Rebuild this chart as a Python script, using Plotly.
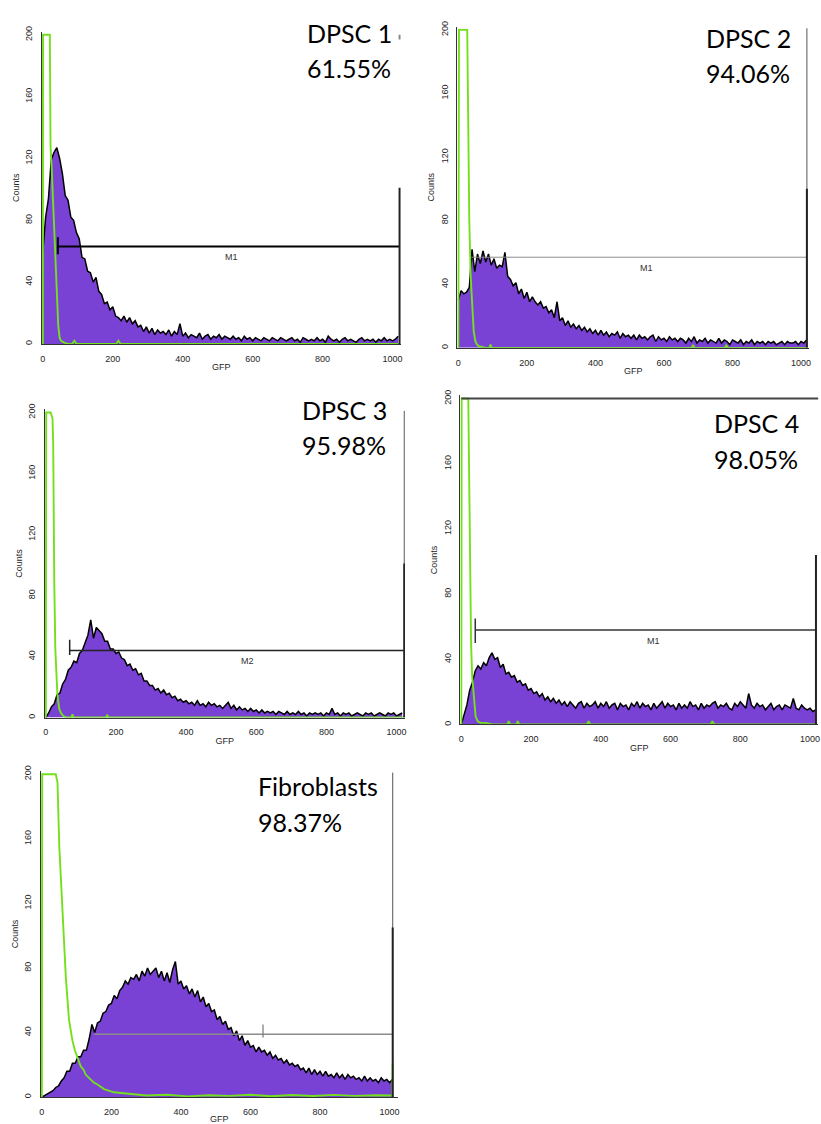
import plotly.graph_objects as go

W, H = 821, 1124
BIN = 8  # GFP channels per histogram bin

sample_names = ["DPSC 1", "DPSC 2", "DPSC 3", "DPSC 4", "Fibroblasts"]
positive_pct = ["61.55%", "94.06%", "95.98%", "98.05%", "98.37%"]

# GFP histogram counts (bins of 8 channels, starting at channel 0)
dpsc1_counts = [
    60, 82, 94, 119, 124, 127, 120, 110, 96, 93, 82, 80, 72, 68, 56, 55,
    47, 46, 40, 43, 34, 32, 26, 27, 22, 24, 18, 17, 15, 18, 14, 17,
    13, 15, 11, 12, 8, 11, 7, 10, 6, 9, 7, 8, 6, 9, 5, 8,
    6, 13, 5, 7, 4, 6, 5, 4, 7, 3, 5, 6, 3, 5, 4, 6,
    3, 5, 4, 3, 5, 3, 4, 2, 5, 3, 4, 2, 4, 3, 2, 4,
    3, 2, 4, 3, 2, 4, 3, 2, 3, 4, 2, 3, 1, 4, 3, 2,
    3, 2, 4, 2, 3, 1, 5, 3, 2, 3, 1, 3, 4, 2, 3, 2,
    1, 3, 4, 2, 3, 2, 3, 1, 3, 2, 4, 2, 3, 2, 3, 5,
]
dpsc2_counts = [
    30, 36, 34, 35, 38, 62, 48, 59, 53, 61, 54, 59, 52, 56, 50, 52,
    51, 60, 45, 43, 39, 41, 34, 37, 31, 35, 29, 32, 29, 27, 29, 25,
    26, 22, 24, 19, 29, 17, 19, 14, 17, 13, 15, 12, 14, 11, 13, 10,
    12, 9, 11, 8, 11, 8, 10, 7, 9, 8, 10, 6, 9, 7, 8, 6,
    8, 5, 8, 6, 7, 5, 7, 8, 4, 7, 5, 6, 4, 7, 5, 6,
    4, 6, 5, 3, 6, 4, 7, 3, 5, 4, 6, 3, 5, 4, 3, 6,
    3, 5, 4, 2, 5, 4, 3, 5, 2, 4, 3, 5, 2, 4, 3, 4,
    2, 4, 3, 4, 2, 3, 4, 2, 4, 3, 3, 4, 2, 4, 3, 5,
]
dpsc3_counts = [
    0, 3, 7, 9, 15, 16, 22, 25, 31, 33, 37, 36, 42, 44, 49, 54,
    64, 52, 59, 57, 55, 50, 50, 45, 45, 42, 43, 39, 38, 34, 35, 31,
    32, 28, 29, 24, 24, 21, 21, 18, 19, 16, 18, 15, 16, 13, 14, 11,
    12, 10, 11, 9, 10, 8, 11, 8, 9, 7, 10, 8, 9, 7, 8, 6,
    8, 10, 6, 8, 5, 7, 5, 6, 4, 6, 4, 5, 3, 5, 3, 4,
    3, 4, 2, 4, 3, 2, 4, 2, 3, 2, 4, 2, 3, 1, 3, 2,
    3, 2, 3, 1, 3, 2, 6, 2, 3, 1, 3, 2, 3, 1, 2, 3,
    2, 1, 3, 2, 3, 1, 2, 3, 2, 1, 3, 2, 3, 1, 2, 3,
]
dpsc4_counts = [
    0, 6, 12, 21, 26, 33, 36, 34, 38, 36, 41, 44, 40, 41, 35, 37,
    31, 32, 29, 30, 26, 27, 24, 25, 21, 22, 19, 20, 17, 19, 15, 17,
    14, 16, 13, 15, 12, 14, 11, 14, 12, 10, 13, 14, 10, 13, 11, 12,
    14, 10, 13, 11, 14, 10, 12, 13, 9, 13, 11, 12, 9, 13, 11, 14,
    10, 13, 11, 12, 9, 13, 10, 12, 14, 10, 13, 11, 12, 9, 13, 10,
    12, 10, 14, 11, 12, 9, 13, 10, 12, 11, 13, 14, 10, 12, 11, 13,
    10, 9, 13, 11, 14, 12, 10, 19, 12, 10, 13, 11, 12, 9, 11, 13,
    9, 11, 12, 9, 12, 11, 10, 16, 10, 9, 12, 10, 9, 10, 8, 9,
]
fibro_counts = [
    0, 1, 2, 3, 4, 6, 7, 10, 12, 16, 16, 21, 21, 25, 25, 29,
    29, 36, 45, 40, 46, 47, 52, 53, 57, 58, 63, 61, 66, 68, 72, 70,
    74, 73, 76, 72, 78, 75, 80, 76, 78, 80, 74, 78, 72, 77, 71, 79,
    84, 70, 72, 67, 69, 64, 67, 62, 66, 59, 62, 56, 58, 53, 54, 48,
    50, 45, 47, 42, 43, 38, 41, 35, 38, 32, 35, 31, 32, 28, 31, 28,
    29, 26, 28, 24, 26, 23, 24, 21, 23, 20, 21, 19, 20, 17, 18, 15,
    18, 14, 17, 14, 16, 13, 16, 13, 14, 12, 15, 12, 14, 11, 14, 12,
    13, 11, 12, 10, 13, 10, 12, 10, 11, 9, 12, 10, 11, 9, 11,
]
sample_counts = [dpsc1_counts, dpsc2_counts, dpsc3_counts, dpsc4_counts, fibro_counts]

# Isotype control overlays (GFP channel, counts; peak clipped at 200)
ctrl1_gfp = [0, 0.5, 20, 22, 25, 30, 35, 40, 44, 48, 52, 60, 70, 84, 90, 96, 110, 210, 216, 222, 1020]
ctrl1_counts = [0, 200, 200, 128, 115, 90, 62, 32, 12, 4, 2, 1, 0, 0, 2, 0, 0, 0, 2, 0, 0]
ctrl2_gfp = [0, 2, 26, 28, 32, 36, 40, 45, 50, 55, 60, 80, 90, 94, 98, 680, 685, 690, 777, 782, 787, 1017]
ctrl2_counts = [0, 200, 200, 160, 80, 45, 25, 10, 4, 2, 1, 0, 0, 2, 0, 0, 1.5, 0, 0, 1.5, 0, 0]
ctrl3_gfp = [0, 1, 14, 19, 21, 22, 24, 27, 30, 33, 38, 43, 50, 60, 72, 76, 80, 170, 175, 180, 1022]
ctrl3_counts = [0, 200, 200, 196, 180, 130, 90, 45, 25, 15, 6, 3, 1, 0, 0, 2, 0, 0, 1.5, 0, 0]
ctrl4_gfp = [0, 1, 20, 22, 24, 25, 28, 31, 36, 41, 47, 55, 70, 90, 132, 136, 140, 158, 162, 166,
             360, 365, 370, 715, 720, 725, 1017]
ctrl4_counts = [0, 200, 200, 160, 120, 73, 50, 30, 15, 5, 2, 1, 1, 0, 0, 2, 0, 0, 2, 0,
                0, 2, 0, 0, 2, 0, 0]
ctrl5_gfp = [0, 1, 40, 45, 50, 59, 64, 69, 78, 84, 88, 95, 102, 112, 120, 126, 140, 150, 159, 179,
             207, 265, 300, 360, 420, 480, 540, 600, 660, 720, 780, 840, 900, 960, 1008, 1009]
ctrl5_counts = [0, 200, 200, 195, 156, 115, 96, 74, 48, 40, 35, 29, 25, 19, 17, 14, 11, 9, 8, 5,
                3, 1.6, 1, 1.5, 0.5, 1.2, 0.8, 1.5, 0.6, 1.3, 0.7, 1.4, 0.8, 1.2, 1, 21]
ctrl_gfp = [ctrl1_gfp, ctrl2_gfp, ctrl3_gfp, ctrl4_gfp, ctrl5_gfp]
ctrl_counts = [ctrl1_counts, ctrl2_counts, ctrl3_counts, ctrl4_counts, ctrl5_counts]

# Marker gates: start channel, end channel, drawn level (counts)
gate_names = ["M1", "M1", "M2", "M1", ""]
gate_start = [43, 38, 68, 40, 150]
gate_end = [1020, 1017, 1022, 1017, 1009]
gate_level = [63, 57, 44, 58, 39]
gate_label_gfp = [540, 549, 574, 551, 0]
end_bar_height = [101, 100, 101, 104, 105]

# Axis ticks: every 40 channels / 10 counts, labelled every 200 / 40
x_tick_vals = list(range(0, 1001, 40))
x_tick_text = [str(v) if v % 200 == 0 else "" for v in x_tick_vals]
y_tick_vals = list(range(0, 201, 10))
y_tick_text = [str(v) if v % 40 == 0 else "" for v in y_tick_vals]

# ---- layout geometry (pixels in the 821x1124 canvas) ----
# x px of channel 0, px per channel, y px of count 0, y px of count 200
geom = [
    (42, 0.351, 340, 29),
    (459, 0.344, 344, 24),
    (45, 0.352, 716, 409),
    (462, 0.350, 723, 395),
    (41, 0.349, 1098, 773),
]
# label block: left px, mid of first line, mid of second line
label_pos = [(305, 27, 62), (706, 32, 67), (300, 407, 442), (714, 420, 456), (256, 785, 821)]

X_MIN, X_MAX = -3, 1024
Y_MIN, Y_MAX = 0, 202
TICK_PX = 4

PURPLE = "#7A42D4"
GREEN = "#72E01C"

fig = go.Figure()
shapes = []
annotations = []
axis_font = dict(family="Liberation Sans, Arial", size=9, color="#262626")

for i in range(5):
    n = "" if i == 0 else str(i + 1)
    xa, ya = "x" + n, "y" + n
    x0px, sx, y0px, y200px = geom[i]
    sy = (y0px - y200px) / 200.0
    left = x0px + X_MIN * sx
    right = x0px + X_MAX * sx
    bottom = y0px
    top = y0px - Y_MAX * sy

    counts = sample_counts[i]
    gfp = [BIN * k for k in range(len(counts))]
    fig.add_trace(go.Scatter(
        x=gfp, y=counts, xaxis=xa, yaxis=ya, mode="lines",
        line=dict(color="black", width=1.5), fill="tozeroy", fillcolor=PURPLE,
        hoverinfo="skip", showlegend=False))
    fig.add_trace(go.Scatter(
        x=ctrl_gfp[i], y=ctrl_counts[i], xaxis=xa, yaxis=ya, mode="lines",
        line=dict(color=GREEN, width=1.9), hoverinfo="skip", showlegend=False))

    # tick marks drawn as short line markers just outside each axis line
    tick_y = -(TICK_PX / 2.0) / sy            # half a tick below the count-0 line
    tick_x = X_MIN - (TICK_PX / 2.0) / sx     # half a tick left of the counts axis line
    fig.add_trace(go.Scatter(
        x=x_tick_vals, y=[tick_y] * len(x_tick_vals), xaxis=xa, yaxis=ya, mode="markers",
        marker=dict(symbol="line-ns", size=TICK_PX, line=dict(color="#111", width=1.6)),
        cliponaxis=False, hoverinfo="skip", showlegend=False))
    fig.add_trace(go.Scatter(
        x=[tick_x] * len(y_tick_vals), y=y_tick_vals, xaxis=xa, yaxis=ya, mode="markers",
        marker=dict(symbol="line-ew", size=TICK_PX, line=dict(color="#111", width=1.6)),
        cliponaxis=False, hoverinfo="skip", showlegend=False))

    fig.update_layout(**{
        ("xaxis" + n): dict(
            domain=[left / W, right / W], range=[X_MIN, X_MAX], anchor=ya,
            title=dict(text="GFP", font=axis_font, standoff=1),
        ),
        ("yaxis" + n): dict(
            domain=[1 - bottom / H, 1 - top / H], range=[Y_MIN, Y_MAX], anchor=xa,
            title=dict(text="Counts", font=axis_font, standoff=3),
        ),
    })

    # gate bar
    gcol = ["black", "#8c8c8c", "#222", "#333", "#8c8c8c"][i]
    gw = [2, 1, 1.5, 1.5, 1.5][i]
    shapes.append(dict(type="line", xref=xa, yref=ya, x0=gate_start[i], x1=gate_end[i],
                       y0=gate_level[i], y1=gate_level[i], line=dict(color=gcol, width=gw)))
    if i in (0, 2, 3):
        lo, hi = [(gate_level[0] - 5, gate_level[0] + 6), (41, 51), (50, 65)][[0, 2, 3].index(i)]
        shapes.append(dict(type="line", xref=xa, yref=ya, x0=gate_start[i], x1=gate_start[i],
                           y0=lo, y1=hi, line=dict(color=gcol, width=gw)))
    if i == 4:
        shapes.append(dict(type="line", xref=xa, yref=ya, x0=636, x1=636, y0=37, y1=45,
                           line=dict(color="#777", width=1.2)))
    # right-hand boundary bars
    if i in (1, 2, 4):
        shapes.append(dict(type="line", xref=xa, yref=ya, x0=gate_end[i], x1=gate_end[i],
                           y0=0, y1=201, line=dict(color="#555", width=1)))
    shapes.append(dict(type="line", xref=xa, yref=ya, x0=gate_end[i], x1=gate_end[i],
                       y0=0, y1=end_bar_height[i], line=dict(color="#222", width=2)))
    if i == 0:
        shapes.append(dict(type="line", xref=xa, yref=ya, x0=gate_end[i], x1=gate_end[i],
                           y0=197, y1=200, line=dict(color="#888", width=2)))
    if i == 3:
        shapes.append(dict(type="line", xref=xa, yref=ya, x0=0, x1=X_MAX,
                           y0=200, y1=200, line=dict(color="#444", width=2)))

    if gate_names[i] and i != 4:
        annotations.append(dict(x=gate_label_gfp[i], y=gate_level[i] - 7, xref=xa, yref=ya,
                                text=gate_names[i], showarrow=False, xanchor="center",
                                yanchor="middle",
                                font=dict(family="Liberation Sans, Arial", size=9, color="#333")))

    lx, l1, l2 = label_pos[i]
    for txt, ly in ((sample_names[i], l1), (positive_pct[i], l2)):
        annotations.append(dict(x=lx / W, y=1 - ly / H, xref="paper", yref="paper",
                                text=txt, showarrow=False, xanchor="left", yanchor="middle",
                                font=dict(family="Lato, Open Sans, sans-serif", size=25,
                                          color="black")))

# shared axis styling; the transparent ticks keep label spacing for the drawn tick marks
fig.update_xaxes(
    showgrid=False, zeroline=False, showline=True, linecolor="#333", linewidth=1,
    tickmode="array", tickvals=x_tick_vals, ticktext=x_tick_text,
    ticks="outside", ticklen=5, tickwidth=1, tickcolor="rgba(0,0,0,0)", tickfont=axis_font,
    ticklabelstandoff=1,
)
fig.update_yaxes(
    showgrid=False, zeroline=False, showline=True, linecolor="#333", linewidth=1,
    tickmode="array", tickvals=y_tick_vals, ticktext=y_tick_text,
    ticks="outside", ticklen=5, tickwidth=1, tickcolor="rgba(0,0,0,0)", tickfont=axis_font,
    tickangle=-90,
)

fig.update_layout(
    width=W, height=H, margin=dict(l=0, r=0, t=0, b=0),
    paper_bgcolor="white", plot_bgcolor="white", showlegend=False,
    shapes=shapes, annotations=annotations,
)

fig.write_html("out.html")
